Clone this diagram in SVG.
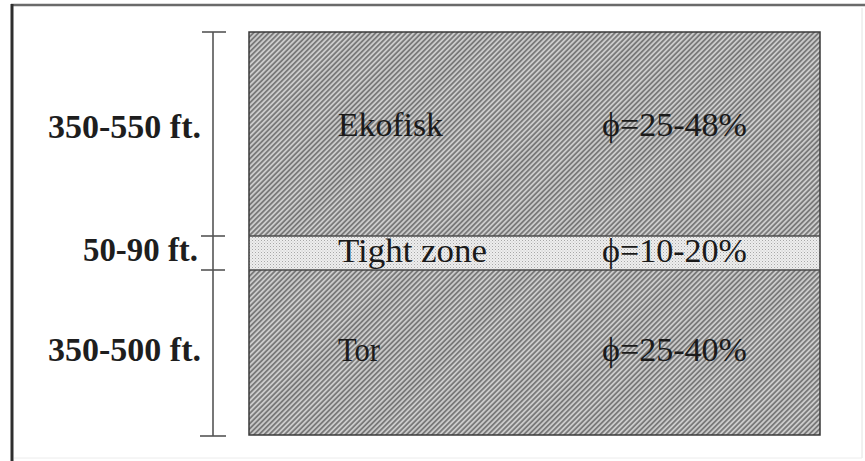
<svg xmlns="http://www.w3.org/2000/svg" width="865" height="461" viewBox="0 0 865 461">
  <defs>
    <pattern id="hatch" patternUnits="userSpaceOnUse" width="3.6" height="3.6" patternTransform="rotate(45)">
      <rect width="3.6" height="3.6" fill="#cbcbcb"/>
      <line x1="0.9" y1="0" x2="0.9" y2="3.6" stroke="#6a6a6a" stroke-width="1.5"/>
    </pattern>
    <pattern id="stipple" patternUnits="userSpaceOnUse" width="3" height="3">
      <rect width="3" height="3" fill="#eeeeee"/>
      <rect x="0" y="0" width="1" height="1" fill="#a8a8a8"/>
      <rect x="1.5" y="1.5" width="1" height="1" fill="#c4c4c4"/>
    </pattern>
    <style>
      .lbl { font-family: "Liberation Serif", "Times New Roman", serif; font-size: 33px; font-weight: bold; fill: #1e1e1e; text-anchor: end; }
      .txt { font-family: "Liberation Serif", "Times New Roman", serif; font-size: 33px; fill: #1a1a1a; }
      .dim { stroke: #555; stroke-width: 1.6; fill: none; }
    </style>
  </defs>

  <rect width="865" height="461" fill="#ffffff"/>

  <g id="frame">
    <line x1="11" y1="5" x2="865" y2="5" stroke="#6a6a6a" stroke-width="2.5"/>
    <line x1="12" y1="4" x2="12" y2="461" stroke="#2e2e2e" stroke-width="3"/>
    <line x1="862" y1="8" x2="862" y2="458" stroke="#e2e2e2" stroke-width="1"/>
    <line x1="14" y1="458" x2="862" y2="458" stroke="#ececec" stroke-width="1"/>
  </g>

  <g id="ekofisk">
    <rect x="249" y="32" width="571" height="204" fill="url(#hatch)"/>
    <text class="txt" x="338" y="136" textLength="105" lengthAdjust="spacingAndGlyphs">Ekofisk</text>
    <text class="txt" x="602" y="136" textLength="145" lengthAdjust="spacingAndGlyphs">ϕ=25-48%</text>
  </g>

  <g id="tight-zone">
    <rect x="249" y="236" width="571" height="34" fill="url(#stipple)"/>
    <text class="txt" x="338" y="262" textLength="149" lengthAdjust="spacingAndGlyphs">Tight zone</text>
    <text class="txt" x="602" y="262" textLength="145" lengthAdjust="spacingAndGlyphs">ϕ=10-20%</text>
  </g>

  <g id="tor">
    <rect x="249" y="270" width="571" height="165" fill="url(#hatch)"/>
    <text class="txt" x="338" y="361" textLength="42" lengthAdjust="spacingAndGlyphs">Tor</text>
    <text class="txt" x="602" y="361" textLength="145" lengthAdjust="spacingAndGlyphs">ϕ=25-40%</text>
  </g>

  <g id="outline">
    <rect x="249" y="32" width="571" height="403" fill="none" stroke="#3a3a3a" stroke-width="1.5"/>
    <line x1="249" y1="236" x2="820" y2="236" stroke="#4a4a4a" stroke-width="1.3"/>
    <line x1="249" y1="270" x2="820" y2="270" stroke="#4a4a4a" stroke-width="1.3"/>
  </g>

  <g id="connectors">
    <line class="dim" x1="213" y1="32" x2="213" y2="436"/>
    <line class="dim" x1="202" y1="32" x2="226" y2="32"/>
    <line class="dim" x1="201" y1="236" x2="225" y2="236"/>
    <line class="dim" x1="201" y1="270" x2="225" y2="270"/>
    <line class="dim" x1="200" y1="436" x2="226" y2="436"/>
  </g>

  <g id="labels">
    <text class="lbl" x="201" y="138" textLength="153" lengthAdjust="spacingAndGlyphs">350-550 ft.</text>
    <text class="lbl" x="198" y="261" textLength="115" lengthAdjust="spacingAndGlyphs">50-90 ft.</text>
    <text class="lbl" x="201" y="361" textLength="153" lengthAdjust="spacingAndGlyphs">350-500 ft.</text>
  </g>
</svg>
